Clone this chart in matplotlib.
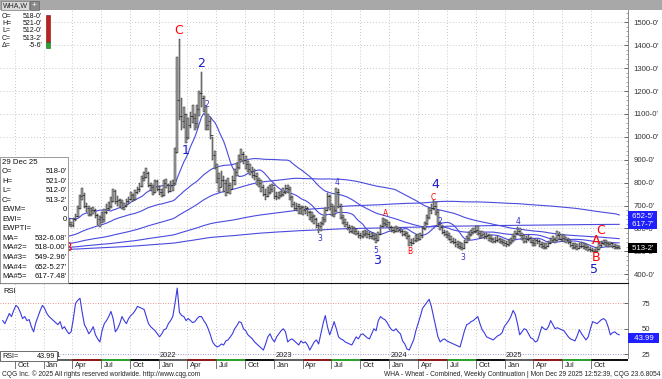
import numpy as np
import pandas as pd
import matplotlib
matplotlib.use("Agg")
import matplotlib.pyplot as plt
from matplotlib.patches import Rectangle
from matplotlib.transforms import blended_transform_factory

plt.rcParams["font.family"] = ["Liberation Sans", "DejaVu Sans"]

W, H = 662, 379

first_week = "2020-08-24"

# weekly bars: (high, low, close)
bars_2020 = [(545, 525, 540), (560, 535, 550), (555, 535, 553), (570, 545, 563), (565, 535, 545),
             (585, 540, 583), (605, 575, 600), (630, 595, 626), (640, 612, 630), (635, 595, 600),
             (615, 590, 605), (612, 585, 596), (605, 585, 591), (598, 575, 578), (585, 565, 570),
             (612, 568, 608), (618, 600, 610), (635, 605, 632), (645, 625, 640)]
bars_2021 = [(660, 628, 638), (680, 636, 670), (690, 652, 660), (668, 632, 645), (650, 625, 635),
             (648, 628, 640), (660, 635, 650), (672, 642, 660), (665, 632, 640), (660, 630, 652),
             (658, 620, 628), (640, 612, 620), (628, 605, 613), (645, 608, 640), (662, 632, 655),
             (700, 650, 690), (745, 685, 740), (776, 725, 745), (755, 690, 700), (712, 670, 690),
             (698, 655, 665), (690, 655, 680), (695, 662, 680), (685, 645, 660), (662, 615, 640),
             (655, 606, 650), (670, 625, 640), (685, 630, 670), (705, 665, 690), (715, 680, 700),
             (735, 690, 720), (772, 715, 765), (768, 705, 720), (740, 700, 725), (730, 695, 715),
             (722, 685, 695), (710, 682, 700), (728, 692, 720), (735, 705, 728), (760, 722, 745),
             (752, 718, 728), (768, 725, 760), (780, 750, 770), (798, 760, 785), (830, 780, 822),
             (845, 805, 825), (864, 820, 840), (845, 780, 790), (800, 765, 780), (790, 748, 760),
             (812, 755, 805), (810, 765, 770)]
bars_2022 = [(785, 745, 760), (770, 735, 745), (810, 740, 800), (815, 775, 790), (795, 755, 765),
             (805, 760, 790), (810, 765, 800), (950, 790, 935), (1348, 930, 1160), (1425, 1073, 1090),
             (1170, 1030, 1070), (1130, 1040, 1100), (1100, 973, 1000), (1080, 990, 1050), (1110, 1040, 1090),
             (1140, 1060, 1080), (1100, 1030, 1060), (1140, 1040, 1120), (1200, 1090, 1190), (1283, 1130, 1170),
             (1180, 1110, 1140), (1130, 1030, 1050), (1100, 1030, 1070), (1080, 990, 1010), (1000, 900, 920),
             (940, 860, 870), (880, 800, 820), (840, 760, 780), (850, 780, 810), (830, 760, 800),
             (810, 740, 760), (820, 755, 790), (800, 750, 770), (830, 770, 810), (860, 790, 845),
             (885, 830, 870), (920, 860, 905), (946, 890, 925), (935, 880, 900), (915, 860, 880),
             (895, 845, 860), (880, 835, 850), (870, 820, 835), (860, 810, 830), (840, 790, 810),
             (820, 780, 800), (810, 760, 780), (790, 740, 750), (770, 724, 740), (780, 735, 760),
             (790, 750, 770), (795, 760, 790)]
bars_2023 = [(780, 730, 740), (760, 725, 735), (760, 728, 745), (765, 735, 750), (775, 740, 760),
             (790, 750, 775), (790, 755, 770), (780, 725, 735), (740, 695, 705), (715, 680, 690),
             (712, 675, 700), (705, 665, 690), (700, 665, 695), (698, 660, 680), (700, 665, 690),
             (692, 655, 670), (675, 635, 650), (670, 630, 655), (660, 620, 640), (645, 600, 615),
             (625, 580, 610), (630, 590, 625), (650, 615, 640), (690, 630, 680), (754, 675, 740),
             (745, 680, 700), (705, 655, 665), (700, 650, 680), (776, 670, 760), (770, 690, 700),
             (705, 640, 650), (660, 620, 630), (640, 605, 620), (630, 595, 605), (615, 580, 590),
             (610, 580, 600), (605, 575, 590), (598, 570, 580), (590, 560, 570), (580, 555, 565),
             (590, 560, 575), (595, 565, 580), (590, 560, 575), (585, 555, 565), (580, 555, 570),
             (578, 550, 560), (570, 537, 550), (585, 545, 575), (615, 570, 610), (645, 605, 625),
             (640, 610, 620), (635, 605, 628)]
bars_2024 = [(630, 595, 605), (612, 585, 595), (605, 580, 590), (610, 585, 600), (608, 585, 595),
             (600, 578, 590), (595, 565, 575), (590, 565, 580), (585, 555, 565), (570, 523, 540),
             (552, 525, 535), (560, 530, 550), (570, 540, 560), (575, 545, 555), (580, 550, 570),
             (605, 560, 600), (630, 595, 625), (660, 615, 650), (690, 640, 680), (705, 665, 690),
             (724, 680, 700), (715, 660, 670), (680, 610, 620), (630, 595, 605), (615, 575, 585),
             (595, 565, 575), (590, 560, 570), (580, 548, 555), (565, 535, 545), (560, 530, 540),
             (552, 520, 530), (545, 515, 525), (540, 510, 520), (535, 505, 515), (548, 510, 540),
             (565, 535, 560), (585, 550, 575), (595, 565, 585), (600, 575, 590), (612, 580, 595),
             (610, 570, 580), (590, 560, 570), (588, 560, 575), (580, 552, 565), (582, 555, 570),
             (575, 545, 560), (570, 540, 555), (560, 535, 545), (562, 538, 550), (568, 540, 555),
             (560, 535, 545), (552, 530, 540), (548, 525, 535)]
bars_2025 = [(545, 520, 530), (550, 525, 540), (560, 530, 550), (575, 540, 565), (590, 555, 580),
             (606, 570, 590), (600, 565, 572), (580, 550, 560), (570, 535, 545), (565, 538, 555),
             (570, 545, 558), (562, 535, 540), (548, 525, 535), (555, 525, 548), (552, 530, 545),
             (548, 520, 530), (540, 515, 525), (535, 510, 520), (538, 508, 525), (545, 520, 535),
             (560, 530, 550), (565, 540, 555), (560, 535, 548), (590, 545, 570), (585, 550, 555),
             (575, 545, 560), (570, 540, 552), (562, 535, 548), (558, 530, 540), (548, 520, 528),
             (535, 508, 520), (538, 512, 525), (530, 505, 515), (535, 508, 522), (540, 515, 525),
             (535, 510, 518), (530, 505, 520), (525, 500, 508), (518, 497, 505), (515, 497, 500),
             (512, 495, 502), (520, 498, 510), (535, 505, 528), (545, 520, 538), (549, 528, 542),
             (548, 525, 535), (540, 520, 530), (542, 520, 535), (538, 515, 525), (530, 512, 520),
             (526, 510, 518), (521, 512, 513.25)]

# weekly RSI values
rsi_2020 = [58, 55, 60, 65, 62, 68, 73, 71, 66, 60, 62, 58, 59, 52, 47, 56, 62, 68, 73]
rsi_2021 = [70, 65, 62, 60, 58, 56, 54, 57, 50, 52, 48, 45, 47, 60, 75, 78, 80, 66, 54, 50,
            45, 48, 52, 44, 40, 37, 48, 55, 58, 62, 67, 60, 47, 50, 55, 62, 58, 55, 60, 63,
            65, 68, 72, 71, 70, 69, 62, 55, 52, 50, 48, 45]
rsi_2022 = [42, 45, 49, 50, 55, 58, 62, 75, 90, 66, 63, 62, 58, 60, 58, 56, 57, 60, 62, 62,
            58, 55, 50, 44, 37, 34, 32, 33, 35, 34, 38, 39, 42, 45, 50, 53, 57, 56, 50, 48,
            44, 42, 40, 37, 35, 33, 31, 29, 35, 42, 45, 40]
rsi_2023 = [37, 42, 45, 48, 50, 47, 37, 39, 40, 38, 36, 34, 38, 36, 37, 34, 29, 33, 37, 39,
            35, 45, 55, 63, 52, 44, 50, 57, 50, 42, 40, 39, 37, 36, 35, 34, 38, 42, 40, 44,
            45, 43, 41, 40, 45, 50, 48, 58, 62, 60, 59, 56]
rsi_2024 = [52, 49, 48, 50, 47, 45, 38, 35, 30, 29, 34, 39, 48, 55, 62, 70, 73, 76, 79, 72,
            62, 52, 42, 37, 39, 40, 38, 37, 36, 35, 34, 33, 32, 40, 48, 54, 55, 57, 58, 60,
            62, 55, 49, 46, 42, 41, 40, 39, 41, 43, 44, 46, 52]
rsi_2025 = [55, 58, 62, 68, 64, 55, 44, 47, 50, 49, 45, 41, 40, 37, 38, 45, 52, 50, 49, 52,
            58, 54, 50, 51, 50, 49, 48, 45, 42, 40, 39, 38, 43, 49, 45, 42, 39, 42, 50, 57,
            56, 55, 57, 59, 60, 58, 52, 44, 46, 47, 45, 43.99]

prior_level = 500
ma_windows = [52, 13, 100, 200, 400]

price_ticks = list(range(400, 1501, 100))
price_tags = [("652-5'", 652.5, "#1f1fff"), ("617-7'", 617.75, "#1f1fff"), ("513-2'", 513.25, "#000000")]

info_rows = [("29 Dec 25", ""), ("O=", "518-0'"), ("H=", "521-0'"), ("L=", "512-0'"), ("C=", "513-2'"),
             ("EWM=", "0"), ("EWI=", "0"), ("EWPTI=", ""), ("MA=", "532-6.08'"), ("MA#2=", "518-0.00'"),
             ("MA#3=", "549-2.96'"), ("MA#4=", "652-5.27'"), ("MA#5=", "617-7.48'")]
quote_rows = [("O=", "518-0'"), ("H=", "521-0'"), ("L=", "512-0'"), ("C=", "513-2'"), ("\u0394=", "-5-6'")]

# elliott wave marks: (text, week, price, colour, big)
wave_marks = [("B", 29.5, 518, "red", True), ("C", 79.5, 1462, "red", True), ("2", 89.8, 1322, "#1818c8", True),
              ("2", 92.6, 1139, "#3030d0", False), ("1", 83.0, 938, "#1818c8", True),
              ("4", 151.4, 800, "#3030d0", False), ("3", 143.7, 556, "#3030d0", False),
              ("A", 173.3, 663, "red", False), ("5", 169.0, 505, "#3030d0", False),
              ("3", 169.5, 462, "#1818c8", True), ("B", 184.4, 501, "red", False),
              ("4", 195.7, 790, "#1818c8", True), ("C", 194.8, 737, "red", False),
              ("2", 198.0, 632, "#3030d0", False), ("3", 208.3, 471, "#3030d0", False),
              ("4", 233.3, 629, "#3030d0", False), ("C", 270.5, 590, "red", True),
              ("A", 268.7, 549, "red", True), ("B", 268.7, 472, "red", True), ("5", 267.8, 420, "#1818c8", True)]


def fx(px):
    return px / W


def fy(py):
    return 1 - py / H


bars = bars_2020 + bars_2021 + bars_2022 + bars_2023 + bars_2024 + bars_2025
rsi = rsi_2020 + rsi_2021 + rsi_2022 + rsi_2023 + rsi_2024 + rsi_2025
high = np.array([b[0] for b in bars], dtype=float)
low = np.array([b[1] for b in bars], dtype=float)
close = np.array([b[2] for b in bars], dtype=float)
opens = np.r_[close[0], close[:-1]]
n = len(bars)
xw = np.arange(n)
start = pd.Timestamp(first_week)

pad = max(ma_windows)
hist = pd.Series(np.r_[np.full(pad, prior_level, dtype=float), close])
ma_lines = [hist.rolling(w).mean().values[pad:] for w in ma_windows]

quarters = pd.date_range("2020-10-01", "2025-10-01", freq="QS")
qx = [(q - start).days / 7 for q in quarters]
x_lo, x_hi = -1.2, 283.0

fig = plt.figure(figsize=(W / 100, H / 100), dpi=100)

ax = fig.add_axes([0, fy(283), fx(628), 273 / H])
rax = fig.add_axes([0, fy(358), fx(628), 75 / H])
dax = fig.add_axes([0, fy(369), fx(628), 11 / H])

grid_kw = dict(color="#a8a8a8", lw=0.55, linestyle=(0, (1, 3)))

# ---- price panel
ax.set_xlim(x_lo, x_hi)
ax.set_ylim(361.6, 1553.7)
for p in price_ticks:
    ax.axhline(p, zorder=0, **grid_kw)
for q in qx:
    ax.axvline(q, zorder=0, **grid_kw)

for line in ma_lines:
    ax.plot(xw, line, color="#4a4ade", lw=0.8, zorder=2)

ax.bar(xw, high - low, bottom=low, width=0.75, color="#a6a6a6", edgecolor="#2c2c2c", linewidth=0.35, zorder=3)
ax.hlines(opens, xw - 0.6, xw, color="#222222", lw=0.5, zorder=3)
ax.hlines(close, xw, xw + 0.6, color="#222222", lw=0.5, zorder=3)

for s, wx, wp, col, big in wave_marks:
    ax.text(wx, wp, s, color=col, fontsize=9 if big else 5.5, ha="center", va="center",
            zorder=4, family="DejaVu Sans")

ax.set_xticks([])
ax.yaxis.tick_right()
ax.set_yticks(price_ticks)
ax.set_yticklabels([f"{p}-0'" for p in price_ticks])
ax.set_yticks(np.arange(380, 1550, 20), minor=True)
ax.tick_params(axis="y", which="major", direction="in", length=3, width=0.5, labelsize=5.6, pad=4,
               colors="#333333")
ax.tick_params(axis="y", which="minor", direction="in", length=1.5, width=0.4, colors="#666666")
for sp in ("top", "left", "bottom"):
    ax.spines[sp].set_visible(False)
ax.spines["right"].set_color("#777777")
ax.spines["right"].set_linewidth(0.6)

tr = blended_transform_factory(ax.transAxes, ax.transData)
for txt, val, col in price_tags:
    ax.text(1.003, val, " " + txt + " ", transform=tr, fontsize=5.6, color="white", ha="left", va="center",
            clip_on=False, zorder=6,
            bbox=dict(boxstyle="square,pad=0.2", fc=col, ec="none"))

# ---- RSI panel
rax.set_xlim(x_lo, x_hi)
rax.set_ylim(21.2, 95)
for q in qx:
    rax.axvline(q, zorder=0, **grid_kw)
rax.axhline(75, color="#e07070", lw=0.6, linestyle=(0, (1, 2)), zorder=0)
rax.axhline(50, zorder=0, **grid_kw)
rax.axhline(25, color="#7a7ac8", lw=0.6, linestyle=(0, (1, 2)), zorder=0)
rax.plot(np.arange(len(rsi)), rsi, color="#3b3be0", lw=0.8, zorder=2)
rax.set_xticks([])
rax.yaxis.tick_right()
rax.set_yticks([25, 50, 75])
rax.set_yticklabels(["25", "50", "75"])
rax.tick_params(axis="y", direction="in", length=3, width=0.5, labelsize=5.6, pad=10, colors="#333333")
for sp in ("left", "bottom"):
    rax.spines[sp].set_visible(False)
rax.spines["top"].set_color("#111111")
rax.spines["top"].set_linewidth(0.8)
rax.spines["right"].set_color("#777777")
rax.spines["right"].set_linewidth(0.6)
rtr = blended_transform_factory(rax.transAxes, rax.transData)
rax.text(1.003, rsi[-1], "  43.99  ", transform=rtr, fontsize=5.6, color="white", ha="left", va="top",
         clip_on=False, zorder=6, bbox=dict(boxstyle="square,pad=0.2", fc="#1f1fff", ec="none"))
rax.text(0.005, 0.93, "RSI", transform=rax.transAxes, fontsize=5.5, va="top", ha="left", color="#111111")

# year labels at the foot of the RSI panel
for q, xq in zip(quarters, qx):
    if q.month == 1:
        rax.text(xq + 0.5, 23.2, str(q.year), fontsize=5.4, ha="left", va="center", color="#222222")

# ---- date strip
dax.set_xlim(x_lo, x_hi)
dax.set_ylim(0, 1)
dax.axis("off")
strip_cols = {1: "#606060", 4: "#8b1a1a", 7: "#2ea02e", 10: "#111111"}
edges = [x_lo] + qx + [x_hi]
months = [7] + [q.month for q in quarters]
for a, b, m in zip(edges[:-1], edges[1:], months):
    dax.add_patch(Rectangle((a, 0.72), b - a, 0.22, fc=strip_cols[m], ec="none"))
for q, xq in zip(quarters, qx):
    dax.plot([xq, xq], [0, 0.95], color="#444444", lw=0.5)
    dax.text(xq + 1.2, 0.32, q.strftime("%b"), fontsize=5.4, ha="left", va="center", color="#222222")

# ---- chrome: tab bar, info boxes, footer
fig.add_artist(Rectangle((0, fy(10)), 1, 10 / H, transform=fig.transFigure, fc="#a8a8a8", ec="none", zorder=5))
fig.add_artist(Rectangle((fx(1), fy(10)), fx(28), 9 / H, transform=fig.transFigure, fc="#dadada",
                         ec="#777777", lw=0.5, zorder=6))
fig.text(fx(3), fy(5.5), "WHA,W", fontsize=5, va="center", ha="left", color="#222222", zorder=7)
fig.add_artist(Rectangle((fx(30), fy(10)), fx(9), 9 / H, transform=fig.transFigure, fc="#8a8a8a",
                         ec="#666666", lw=0.5, zorder=6))
fig.text(fx(34.5), fy(5.5), "+", fontsize=6, va="center", ha="center", color="white", zorder=7)

fig.add_artist(Rectangle((0, fy(49)), fx(45), 38 / H, transform=fig.transFigure, fc="white", ec="none", zorder=5))
for k, (lab, val) in enumerate(quote_rows):
    yy = fy(16.7 + k * 7.1)
    fig.text(fx(2), yy, lab, fontsize=5.0, va="center", ha="left", color="#111111", zorder=7)
    fig.text(fx(42), yy, val, fontsize=5.0, va="center", ha="right", color="#111111", zorder=7)
fig.add_artist(Rectangle((fx(46), fy(42)), fx(4), 27 / H, transform=fig.transFigure, fc="#c02020",
                         ec="#701010", lw=0.4, zorder=6))
fig.add_artist(Rectangle((fx(46), fy(48)), fx(4), 6 / H, transform=fig.transFigure, fc="#30a030",
                         ec="#106010", lw=0.4, zorder=6))

fig.add_artist(Rectangle((0, fy(283)), fx(68), 126 / H, transform=fig.transFigure, fc="white",
                         ec="#8a8a8a", lw=0.6, zorder=5))
for k, (lab, val) in enumerate(info_rows):
    yy = fy(162 + k * 9.55)
    fig.text(fx(2), yy, lab, fontsize=5.6, va="center", ha="left", color="#111111", zorder=7)
    if val:
        fig.text(fx(67), yy, val, fontsize=5.6, va="center", ha="right", color="#111111", zorder=7)

fig.add_artist(Rectangle((0, fy(361)), fx(57), 10 / H, transform=fig.transFigure, fc="white",
                         ec="#555555", lw=0.6, zorder=5))
fig.text(fx(2), fy(356), "RSI=", fontsize=5.2, va="center", ha="left", color="#111111", zorder=7)
fig.text(fx(55), fy(356), "43.99", fontsize=5.2, va="center", ha="right", color="#111111", zorder=7)

fig.text(fx(2), fy(374), "CQG Inc. \u00a9 2025 All rights reserved worldwide. http://www.cqg.com",
         fontsize=4.8, va="center", ha="left", color="#222222")
fig.text(fx(660), fy(374),
         "WHA - Wheat - Combined, Weekly Continuation | Mon Dec 29 2025 12:52:39, CQG 23.6.8054",
         fontsize=4.8, va="center", ha="right", color="#222222")

fig.savefig("out.png", dpi=100, facecolor="white")
